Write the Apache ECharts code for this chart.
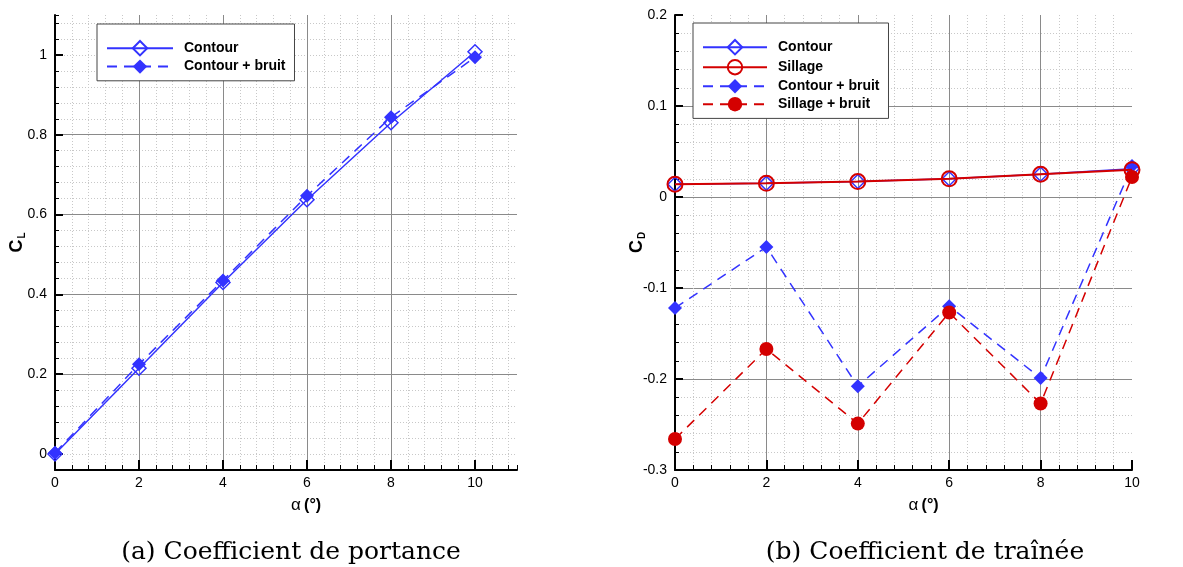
<!DOCTYPE html>
<html>
<head>
<meta charset="utf-8">
<script src="https://cdn.jsdelivr.net/npm/echarts@6/dist/echarts.min.js"></script>
<style>
html,body{margin:0;padding:0;background:#fff;}
#chart{width:1183px;height:567px;}
</style>
</head>
<body>
<div id="chart"></div>
<script>
// ---- data ----
const alpha = [0, 2, 4, 6, 8, 10];
const clContour = [0.000, 0.215, 0.430, 0.637, 0.830, 1.008];
const clContourBruit = [0.003, 0.225, 0.435, 0.647, 0.844, 0.994];
const cdContour = [0.014, 0.015, 0.017, 0.020, 0.025, 0.031];
const cdSillage = [0.014, 0.015, 0.017, 0.020, 0.025, 0.030];
const cdContourBruit = [-0.122, -0.055, -0.208, -0.120, -0.199, 0.034];
const cdSillageBruit = [-0.266, -0.167, -0.249, -0.127, -0.227, 0.022];
const clTicks = [0, 0.2, 0.4, 0.6, 0.8, 1];
const alphaTicks = [0, 2, 4, 6, 8, 10];
const captionA = '(a) Coefficient de portance';
const captionB = '(b) Coefficient de traînée';

const BLUE = '#3333ff';
const RED = '#d40000';
const MAJOR = '#8a8a8a';
const MINOR = '#c8c8c8';
const FONT = 'Liberation Sans, Arial, sans-serif';
const CLEAR = 'rgba(255,255,255,0)';

function pairs(xs, ys) { return xs.map((x, i) => [x, ys[i]]); }

const baseLabel = { color: '#000', fontFamily: FONT, fontSize: 14 };
const xName = '{a|α} {b|(°)}';
const xNameStyle = { padding: [0, 0, 0, 40], rich: {
  a: { fontFamily: FONT, fontSize: 17, color: '#000' },
  b: { fontFamily: FONT, fontSize: 16, fontWeight: 'bold', color: '#000' }
} };

function xMajor(grid, max, extra) {
  return Object.assign({
    type: 'value', gridIndex: grid, position: 'bottom', min: 0, max: max, interval: 2,
    axisLine: { show: true, onZero: false, lineStyle: { color: '#000', width: 2 } },
    axisTick: { show: true, inside: true, length: 10, customValues: alphaTicks, lineStyle: { color: '#000', width: 2 } },
    axisLabel: Object.assign({ margin: 6, customValues: alphaTicks }, baseLabel),
    splitLine: { show: true, showMinLine: false, showMaxLine: false, lineStyle: { color: MAJOR, width: 1 } },
    name: xName, nameLocation: 'middle', nameGap: 27, nameTextStyle: xNameStyle,
    z: 3
  }, extra || {});
}
function xMinor(grid, max) {
  return {
    type: 'value', gridIndex: grid, position: 'bottom', min: 0, max: max, interval: 0.4,
    axisLine: { show: false, onZero: false },
    axisTick: { show: true, inside: true, length: 5, lineStyle: { color: '#000', width: 1 } },
    axisLabel: { show: false },
    splitLine: { show: true, showMinLine: false, showMaxLine: false, lineStyle: { color: MINOR, width: 1, type: [1, 2] } },
    z: 1
  };
}
function yName(sub) {
  return {
    name: '{c|C}{s|' + sub + '}', nameLocation: 'middle', nameRotate: 90, nameMoveOverlap: false,
    nameTextStyle: { rich: {
      c: { fontFamily: FONT, fontWeight: 'bold', fontSize: 18, color: '#000' },
      s: { fontFamily: FONT, fontWeight: 'bold', fontSize: 10, color: '#000', padding: [9, 0, 0, 1] }
    } }
  };
}

const legendText = { fontFamily: FONT, fontWeight: 'bold', fontSize: 14, color: '#000', padding: [0, 0, 0, 6] };

const option = {
  backgroundColor: '#fff',
  animation: false,
  grid: [
    { left: 55, top: 15, width: 462, height: 455 },
    { left: 675, top: 15, width: 457, height: 455 }
  ],
  xAxis: [
    xMajor(0, 11),
    xMinor(0, 11),
    xMajor(1, 10, {
      minorTick: { show: true, splitNumber: 5, length: 5, lineStyle: { color: '#000', width: 1 } },
      minorSplitLine: { show: true, lineStyle: { color: MINOR, width: 1, type: [1, 2] } }
    })
  ],
  yAxis: [
    {
      type: 'value', gridIndex: 0, position: 'left', min: -0.04, max: 1.1, interval: 0.04,
      axisLine: { show: true, onZero: false, lineStyle: { color: '#000', width: 2 } },
      axisTick: { show: true, inside: true, length: 4, lineStyle: { color: '#000', width: 1 } },
      axisLabel: { show: false },
      splitLine: { show: true, showMinLine: false, showMaxLine: false, lineStyle: { color: MINOR, width: 1, type: [1, 2] } },
      z: 1
    },
    Object.assign({
      type: 'value', gridIndex: 0, position: 'left', offset: 0, min: -0.04, max: 1.1,
      axisLine: { show: false, onZero: false },
      axisTick: { show: true, inside: true, length: 8, customValues: clTicks, lineStyle: { color: '#000', width: 2 } },
      axisLabel: Object.assign({ customValues: clTicks, margin: 8 }, baseLabel),
      splitLine: { show: true, showMinLine: false, showMaxLine: false, lineStyle: { color: MAJOR, width: 1 } },
      nameGap: 28,
      z: 3
    }, yName('L')),
    Object.assign({
      type: 'value', gridIndex: 1, position: 'left', min: -0.3, max: 0.2, interval: 0.1,
      axisLine: { show: true, onZero: false, lineStyle: { color: '#000', width: 2 } },
      axisTick: { show: true, inside: true, length: 8, lineStyle: { color: '#000', width: 2 } },
      minorTick: { show: true, splitNumber: 5, length: 4, lineStyle: { color: '#000', width: 1 } },
      axisLabel: Object.assign({ margin: 8 }, baseLabel),
      splitLine: { show: true, showMinLine: false, showMaxLine: false, lineStyle: { color: MAJOR, width: 1 } },
      minorSplitLine: { show: true, lineStyle: { color: MINOR, width: 1, type: [1, 2] } },
      nameGap: 28,
      z: 3
    }, yName('D'))
  ],
  legend: [
    {
      data: ['Contour', 'Contour + bruit'],
      orient: 'vertical', left: 97, top: 24,
      padding: [16, 9, 7, 9], itemGap: 3, itemWidth: 66, itemHeight: 18,
      backgroundColor: '#fff', borderColor: '#444', borderWidth: 1,
      textStyle: legendText,
      selectedMode: false,
      z: 10
    },
    {
      data: ['Contour ', 'Sillage', 'Contour + bruit ', 'Sillage + bruit'],
      orient: 'vertical', left: 693, top: 23,
      padding: [16, 9, 7, 9], itemGap: 3.6, itemWidth: 64, itemHeight: 18,
      backgroundColor: '#fff', borderColor: '#444', borderWidth: 1,
      textStyle: legendText,
      formatter: function (n) { return n.trim(); },
      selectedMode: false,
      z: 10
    }
  ],
  graphic: [
    { type: 'text', x: 291, y: 552, style: { text: captionA, font: '25px "DejaVu Serif", serif', fill: '#000', textAlign: 'center', textVerticalAlign: 'middle' } },
    { type: 'text', x: 925, y: 552, style: { text: captionB, font: '25px "DejaVu Serif", serif', fill: '#000', textAlign: 'center', textVerticalAlign: 'middle' } }
  ],
  series: [
    {
      name: 'Contour', type: 'line', xAxisIndex: 0, yAxisIndex: 1,
      data: pairs(alpha, clContour), symbol: 'diamond', symbolSize: 14,
      color: BLUE, lineStyle: { color: BLUE, width: 1.5 }, itemStyle: { color: CLEAR, borderColor: BLUE, borderWidth: 1.5 }, z: 5
    },
    {
      name: 'Contour + bruit', type: 'line', xAxisIndex: 0, yAxisIndex: 1,
      data: pairs(alpha, clContourBruit), symbol: 'diamond', symbolSize: 14,
      color: BLUE, lineStyle: { color: BLUE, width: 1.5, type: [10, 7] }, itemStyle: { color: BLUE }, z: 6
    },
    {
      name: 'Contour ', type: 'line', xAxisIndex: 2, yAxisIndex: 2,
      data: pairs(alpha, cdContour), symbol: 'diamond', symbolSize: 14,
      color: BLUE, lineStyle: { color: BLUE, width: 1.5 }, itemStyle: { color: CLEAR, borderColor: BLUE, borderWidth: 1.5 }, z: 5
    },
    {
      name: 'Sillage', type: 'line', xAxisIndex: 2, yAxisIndex: 2,
      data: pairs(alpha, cdSillage), symbol: 'circle', symbolSize: 15,
      color: RED, lineStyle: { color: RED, width: 2 }, itemStyle: { color: CLEAR, borderColor: RED, borderWidth: 2 }, z: 6
    },
    {
      name: 'Contour + bruit ', type: 'line', xAxisIndex: 2, yAxisIndex: 2,
      data: pairs(alpha, cdContourBruit), symbol: 'diamond', symbolSize: 14,
      color: BLUE, lineStyle: { color: BLUE, width: 1.5, type: [10, 7] }, itemStyle: { color: BLUE }, z: 5
    },
    {
      name: 'Sillage + bruit', type: 'line', xAxisIndex: 2, yAxisIndex: 2,
      data: pairs(alpha, cdSillageBruit), symbol: 'circle', symbolSize: 14,
      color: RED, lineStyle: { color: RED, width: 1.5, type: [10, 7] }, itemStyle: { color: RED }, z: 6
    }
  ]
};

const chart = echarts.init(document.getElementById('chart'), null, { renderer: 'canvas' });
chart.setOption(option);
</script>
</body>
</html>
